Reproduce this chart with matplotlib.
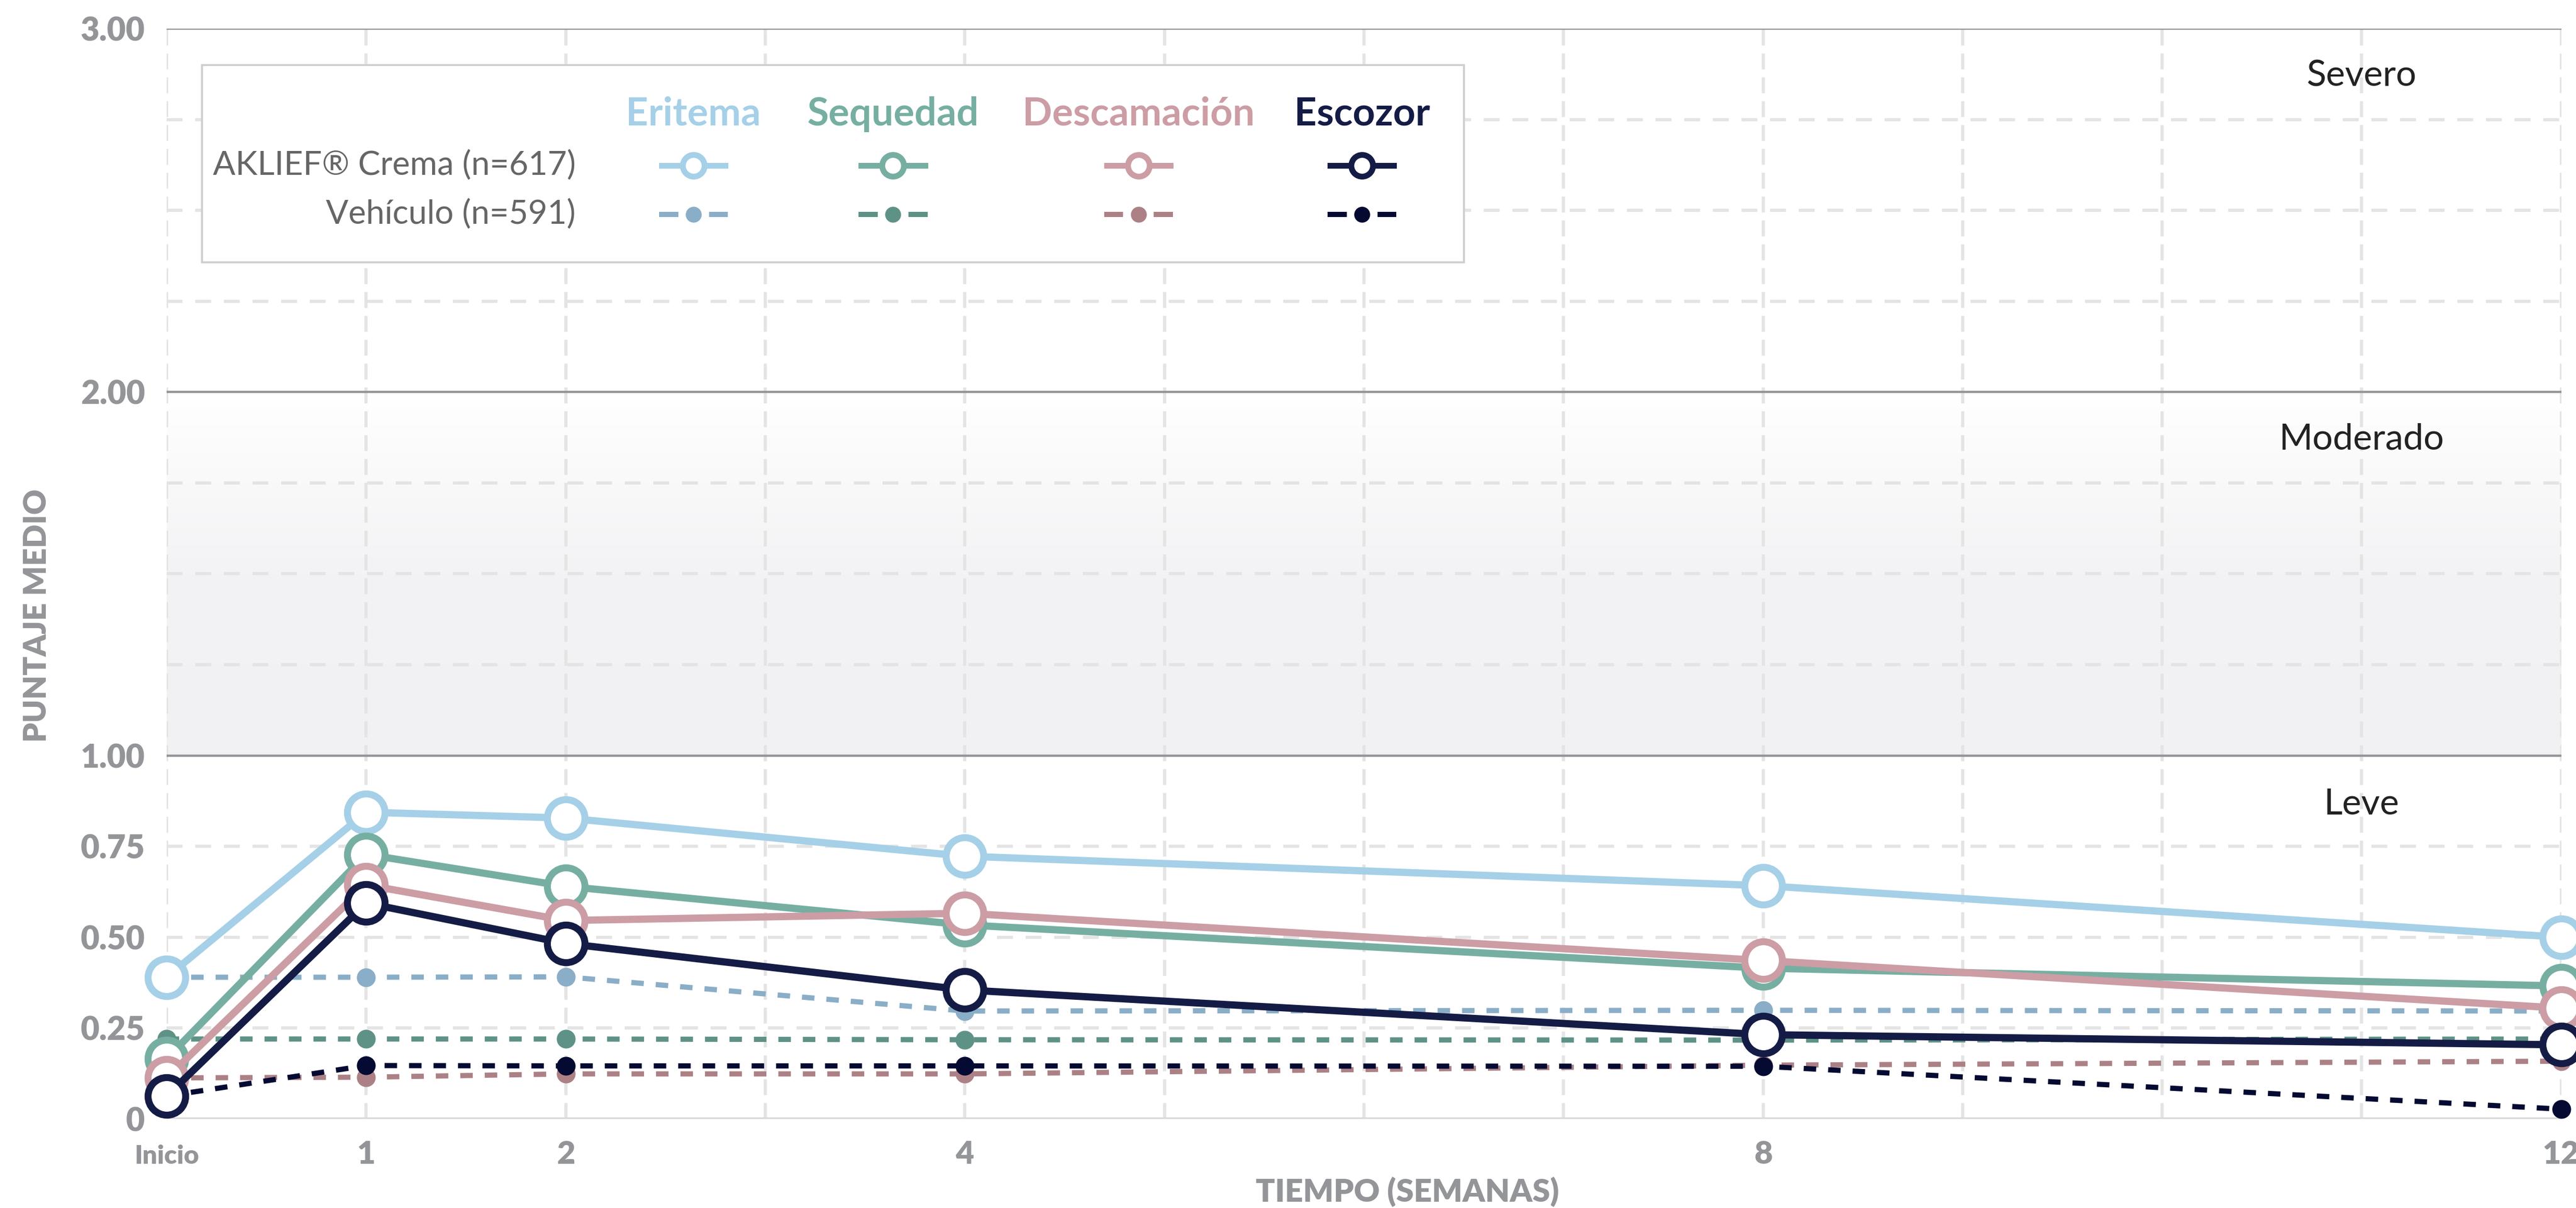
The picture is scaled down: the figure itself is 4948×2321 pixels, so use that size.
import numpy as np
import matplotlib.pyplot as plt
from matplotlib.colors import LinearSegmentedColormap

plt.rcParams['font.family'] = ['Lato', 'DejaVu Sans']

semanas = [0, 1, 2, 4, 8, 12]
etiquetas_x = ['Inicio', '1', '2', '4', '8', '12']

sintomas = ['Eritema', 'Sequedad', 'Descamación', 'Escozor']

# AKLIEF Crema (n=617)
eritema_crema = [0.39, 0.844, 0.828, 0.723, 0.642, 0.50]
sequedad_crema = [0.166, 0.728, 0.640, 0.534, 0.415, 0.366]
descamacion_crema = [0.113, 0.644, 0.546, 0.566, 0.436, 0.305]
escozor_crema = [0.063, 0.594, 0.483, 0.355, 0.232, 0.204]

# Vehiculo (n=591)
eritema_veh = [0.39, 0.39, 0.391, 0.297, 0.299, 0.297]
sequedad_veh = [0.22, 0.22, 0.22, 0.218, 0.217, 0.22]
descamacion_veh = [0.113, 0.115, 0.124, 0.124, 0.148, 0.159]
escozor_veh = [0.063, 0.147, 0.146, 0.146, 0.145, 0.027]

colores_crema = ['#a5d0e8', '#76afa2', '#cc9da4', '#141c46']
colores_veh = ['#8aaec7', '#5f9287', '#ac8186', '#050a32']

niveles = ['Severo', 'Moderado', 'Leve']
niveles_y = [2.87, 1.87, 0.865]

gris = '#939598'

fig = plt.figure(figsize=(24.74, 11.605), dpi=200)
ax = fig.add_axes([0.0647, 0.0737, 0.9296, 0.9026])

# banda moderada con degradado
cmap = LinearSegmentedColormap.from_list('banda', ['#f1f1f3', '#f3f3f5', '#ffffff'])
grad = np.linspace(0, 1, 200).reshape(-1, 1)
ax.imshow(grad, extent=(0, 12, 1, 2), origin='lower', aspect='auto', cmap=cmap, zorder=0)

# rejilla
for v in np.arange(0.25, 3.0, 0.25):
    if v in (1.0, 2.0):
        continue
    ax.axhline(v, color='#e4e4e4', lw=2.2, dashes=(5, 4), zorder=1)
for s in range(13):
    ax.axvline(s, ymin=0, ymax=1, color='#e4e4e4', lw=2.2, dashes=(5, 2.5), zorder=1)
for v in (1.0, 2.0, 3.0):
    ax.axhline(v, color=gris, lw=1.6, zorder=2)
ax.axhline(0, color='#d9d9d9', lw=2.6, zorder=2)

# vehiculo
vehiculo = [eritema_veh, sequedad_veh, descamacion_veh, escozor_veh]
for serie, c in zip(vehiculo, colores_veh):
    ax.plot(semanas, serie, color=c, lw=3.6, dashes=(2.4, 2.3), marker='o', ms=13,
            mfc=c, mec=c, mew=0, zorder=3, clip_on=False)

# crema
crema = [eritema_crema, sequedad_crema, descamacion_crema, escozor_crema]
for serie, c in zip(crema, colores_crema):
    ax.plot(semanas, serie, color=c, lw=5, marker='o', ms=26, mfc='white',
            mec=c, mew=4.8, zorder=4, clip_on=False)

ax.set_xlim(0, 12)
ax.set_ylim(0, 3)
for sp in ax.spines.values():
    sp.set_visible(False)

ax.set_yticks([0, 0.25, 0.5, 0.75, 1, 2, 3])
ax.set_yticklabels(['0', '0.25', '0.50', '0.75', '1.00', '2.00', '3.00'])
ax.tick_params(axis='y', length=0, pad=15, labelsize=22.5, labelcolor=gris)
for t in ax.get_yticklabels():
    t.set_fontweight('heavy')

ax.set_xticks(semanas)
ax.set_xticklabels(etiquetas_x)
ax.tick_params(axis='x', length=0, pad=31, labelsize=22, labelcolor=gris)
for t in ax.get_xticklabels():
    t.set_fontweight('heavy')
    t.set_verticalalignment('baseline')
ax.get_xticklabels()[0].set_fontsize(18)

fig.text(0.0145, 1 - 1183 / 2321, 'PUNTAJE MEDIO', rotation=90, ha='center', va='center',
         fontsize=21.5, fontweight='heavy', color=gris)
fig.text(2703 / 4948, 1 - 2290 / 2321, 'TIEMPO (SEMANAS)', ha='center', va='center',
         fontsize=22, fontweight='heavy', color=gris)

for nombre, yv in zip(niveles, niveles_y):
    ax.text(11, yv, nombre, ha='center', va='center', fontsize=25, color='#222222', zorder=6)

# leyenda
ax.add_patch(plt.Rectangle((0.177, 2.357), 6.50 - 0.177, 2.90 - 2.357, facecolor='white',
                           edgecolor='#d0d0d0', lw=1.4, zorder=5))
cols_x = [2.64, 3.64, 4.87, 5.99]
fila1, fila2, cab = 2.624, 2.489, 2.765
for nombre, x, cc, cv in zip(sintomas, cols_x, colores_crema, colores_veh):
    ax.text(x, cab, nombre, ha='center', va='center', fontsize=27, fontweight='bold',
            color=cc, zorder=6)
    ax.plot([x - 0.16, x + 0.16], [fila1, fila1], color=cc, lw=4, zorder=6)
    ax.plot([x], [fila1], marker='o', ms=15, mfc='white', mec=cc, mew=4, zorder=7)
    ax.plot([x - 0.16, x - 0.09], [fila2, fila2], color=cv, lw=3.6, zorder=6)
    ax.plot([x + 0.09, x + 0.16], [fila2, fila2], color=cv, lw=3.6, zorder=6)
    ax.plot([x], [fila2], marker='o', ms=11, mfc=cv, mec=cv, mew=0, zorder=7)
ax.text(2.05, fila1, 'AKLIEF® Crema (n=617)', ha='right', va='center', fontsize=23,
        color='#666666', zorder=6)
ax.text(2.05, fila2, 'Vehículo (n=591)', ha='right', va='center', fontsize=23,
        color='#666666', zorder=6)

fig.savefig('out.png', dpi=200, facecolor='white')
